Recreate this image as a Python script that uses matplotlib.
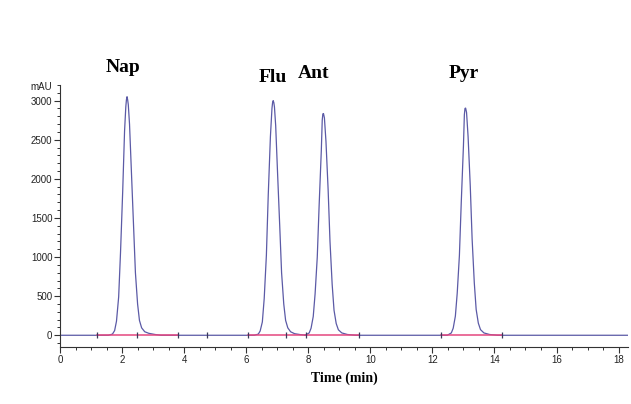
import matplotlib
matplotlib.use('Agg')
import matplotlib.pyplot as plt
from matplotlib.ticker import MultipleLocator
import numpy as np

# chromatogram trace (time in min, signal in mAU)
nap_t = [1.56, 1.69, 1.76, 1.82, 1.89, 1.95, 2.02, 2.08, 2.12, 2.14, 2.16, 2.18, 2.20, 2.24, 2.30, 2.37, 2.43, 2.50, 2.56, 2.63, 2.73, 2.86, 3.06, 3.25]
nap_y = [0, 15, 60, 180, 490, 1060, 1840, 2610, 2920, 3010, 3050, 3010, 2950, 2700, 2100, 1400, 800, 400, 190, 95, 45, 25, 10, 0]
flu_t = [6.26, 6.39, 6.45, 6.52, 6.58, 6.65, 6.71, 6.78, 6.83, 6.85, 6.87, 6.89, 6.91, 6.95, 7.01, 7.08, 7.14, 7.21, 7.27, 7.34, 7.43, 7.56, 7.75, 7.95]
flu_y = [0, 15, 55, 170, 470, 1020, 1790, 2540, 2900, 2975, 3000, 2975, 2920, 2680, 2080, 1400, 800, 400, 190, 95, 45, 20, 8, 0]
ant_t = [7.90, 8.03, 8.09, 8.16, 8.22, 8.29, 8.35, 8.42, 8.45, 8.47, 8.49, 8.52, 8.57, 8.64, 8.70, 8.77, 8.83, 8.90, 8.97, 9.08, 9.26, 9.52]
ant_y = [0, 30, 90, 240, 530, 1000, 1660, 2360, 2750, 2830, 2835, 2780, 2480, 1860, 1200, 650, 320, 150, 70, 30, 10, 0]
pyr_t = [12.48, 12.61, 12.67, 12.74, 12.80, 12.87, 12.93, 13.00, 13.03, 13.05, 13.07, 13.10, 13.15, 13.22, 13.28, 13.35, 13.41, 13.48, 13.55, 13.66, 13.84, 14.10]
pyr_y = [0, 30, 90, 245, 540, 1020, 1700, 2420, 2820, 2900, 2905, 2850, 2540, 1910, 1230, 670, 330, 155, 72, 30, 10, 0]

peak_names = ['Nap', 'Flu', 'Ant', 'Pyr']
label_x = [2.04, 6.85, 8.17, 13.0]
label_y = [3420, 3290, 3345, 3345]

# integration baselines and their end marks
base_start = [1.18, 6.07, 12.28]
base_end = [3.80, 9.65, 14.23]
marks = [1.18, 2.48, 3.80, 4.73, 6.07, 7.29, 7.94, 9.65, 12.28, 14.23]

t = [0.0] + nap_t + flu_t + ant_t + pyr_t + [18.3]
y = [0] + nap_y + flu_y + ant_y + pyr_y + [0]

fig = plt.figure(figsize=(6.31, 4.04), dpi=100)
ax = fig.add_axes([0.0951, 0.1411, 0.900, 0.6485])

ax.plot(t, y, color='#5b5aa6', linewidth=0.9, zorder=2)
for s, e in zip(base_start, base_end):
    ax.plot([s, e], [0, 0], color='#e4467f', linewidth=1.1, zorder=3)
ax.plot(marks, np.zeros(len(marks)), linestyle='none', marker='|',
        markersize=5, markeredgewidth=0.9, color='#3a3a5a', zorder=4)

ax.set_xlim(0, 18.3)
ax.set_ylim(-150, 3200)
ax.xaxis.set_major_locator(MultipleLocator(2))
ax.xaxis.set_minor_locator(MultipleLocator(0.5))
ax.yaxis.set_major_locator(MultipleLocator(500))
ax.yaxis.set_minor_locator(MultipleLocator(100))
ax.spines['top'].set_visible(False)
ax.spines['right'].set_visible(False)
for sp in ('left', 'bottom'):
    ax.spines[sp].set_color('#333333')
    ax.spines[sp].set_linewidth(0.8)
ax.tick_params(which='major', length=4, width=0.8, color='#333333',
               labelsize=7, labelcolor='#222222', pad=1.5)
ax.tick_params(which='minor', length=2.5, width=0.7, color='#333333')
for lab in ax.get_xticklabels() + ax.get_yticklabels():
    lab.set_fontfamily('Liberation Sans')

ax.text(-0.25, 3170, 'mAU', fontsize=7, family='Liberation Sans',
        color='#222222', ha='right', va='center')

for name, lx, ly in zip(peak_names, label_x, label_y):
    ax.text(lx, ly, name, fontsize=14, family='Liberation Serif',
            weight='bold', ha='center', va='center', clip_on=False)

ax.set_xlabel('Time (min)', fontsize=10, family='Liberation Serif',
              weight='bold', labelpad=5)

fig.savefig('out.png', dpi=100)
